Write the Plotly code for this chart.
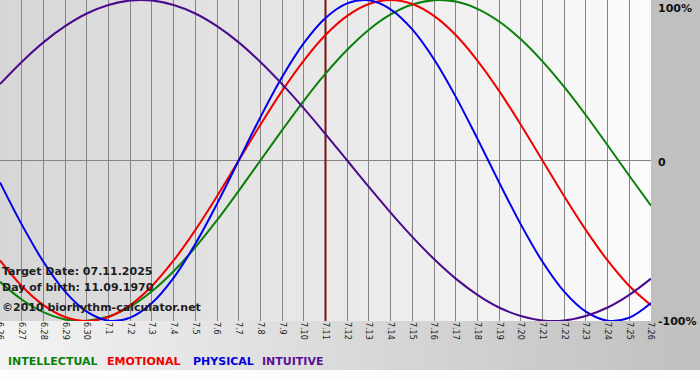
import plotly.graph_objects as go

# ---------------- data ----------------
days = ["6.26", "6.27", "6.28", "6.29", "6.30",
        "7.1", "7.2", "7.3", "7.4", "7.5", "7.6", "7.7", "7.8", "7.9", "7.10",
        "7.11", "7.12", "7.13", "7.14", "7.15", "7.16", "7.17", "7.18", "7.19",
        "7.20", "7.21", "7.22", "7.23", "7.24", "7.25", "7.26"]

intellectual = [-0.756, -0.866, -0.945, -0.990, -0.999, -0.972, -0.910, -0.815,
                -0.690, -0.541, -0.372, -0.189, 0.000, 0.189, 0.372, 0.541,
                0.690, 0.815, 0.910, 0.972, 0.999, 0.990, 0.945, 0.866,
                0.756, 0.618, 0.458, 0.282, 0.095, -0.095, -0.282]

emotional = [-0.623, -0.782, -0.901, -0.975, -1.000, -0.975, -0.901, -0.782,
             -0.623, -0.434, -0.223, 0.000, 0.223, 0.434, 0.623, 0.782,
             0.901, 0.975, 1.000, 0.975, 0.901, 0.782, 0.623, 0.434,
             0.223, 0.000, -0.223, -0.434, -0.623, -0.782, -0.901]

physical = [-0.136, -0.398, -0.631, -0.817, -0.942, -0.998, -0.979, -0.888,
            -0.731, -0.520, -0.270, 0.000, 0.270, 0.520, 0.731, 0.888,
            0.979, 0.998, 0.942, 0.817, 0.631, 0.398, 0.136, -0.136,
            -0.398, -0.631, -0.817, -0.942, -0.998, -0.979, -0.888]

intuitive = [0.476, 0.614, 0.736, 0.837, 0.916, 0.969, 0.997, 0.997,
             0.969, 0.916, 0.837, 0.736, 0.614, 0.476, 0.325, 0.165,
             0.000, -0.165, -0.325, -0.476, -0.614, -0.736, -0.837, -0.916,
             -0.969, -0.997, -0.997, -0.969, -0.916, -0.837, -0.736]

target_day = "7.11"
target_span = [-1, 1]
y_tick_values = [1, 0, -1]
y_tick_labels = ["100%", "0", "-100%"]
legend_names = ["INTELLECTUAL", "EMOTIONAL", "PHYSICAL", "INTUITIVE"]
info_lines = ["Target Date: 07.11.2025", "Day of birth: 11.09.1970",
              "\u00a92010 biorhythm-calculator.net"]

# ---------------- styling ----------------
W, H = 700, 380
PW, PH = 651, 321          # plot area in pixels
FONT = "DejaVu Sans"
series = [
    (legend_names[0], intellectual, "#0a800a"),
    (legend_names[1], emotional, "#f00000"),
    (legend_names[2], physical, "#0000f0"),
    (legend_names[3], intuitive, "#4b0a8c"),
]
legend_colors = ["#0a800a", "#f00000", "#0000e0", "#5a0e96"]
legend_x = [8, 107, 193, 262]


def px_x(p):
    return p / PW


def px_y(p):
    return (PH - p) / PH


def mix(c1, c2, t):
    return "rgb(%d,%d,%d)" % tuple(round(a + (b - a) * t) for a, b in zip(c1, c2))


fig = go.Figure()
# target date line (below the curves, above the grid)
fig.add_trace(go.Scatter(x=[target_day, target_day], y=target_span, mode="lines",
                         line=dict(color="#7c1010", width=2), hoverinfo="skip",
                         showlegend=False))
# draw order: green, red, blue, purple
for name, vals, col in series:
    fig.add_trace(go.Scatter(x=days, y=vals, mode="lines", name=name,
                             line=dict(color=col, width=2, shape="spline", smoothing=1.0),
                             hoverinfo="skip"))

shapes = []
# plot-area gradient
N = 60
for k in range(N):
    shapes.append(dict(type="rect", xref="x domain", yref="y domain",
                       x0=k / N, x1=(k + 1) / N + 0.002, y0=0, y1=1,
                       fillcolor=mix((214, 214, 214), (251, 251, 251), k / (N - 1)),
                       line=dict(width=0), layer="below"))
# right grey column
shapes.append(dict(type="rect", xref="paper", yref="paper",
                   x0=1, x1=W / PW + 0.01, y0=0, y1=1.01,
                   fillcolor="#c0c0c0", line=dict(width=0), layer="below"))
# bottom gradient band
for k in range(N):
    shapes.append(dict(type="rect", xref="paper", yref="paper",
                       x0=k / N * W / PW, x1=(k + 1) / N * W / PW + 0.002,
                       y0=px_y(370), y1=px_y(PH),
                       fillcolor=mix((243, 243, 243), (192, 192, 192), k / (N - 1)),
                       line=dict(width=0), layer="below"))

annotations = []
# info text
for txt, yp in zip(info_lines, [271, 287, 307]):
    annotations.append(dict(text=txt, xref="paper", yref="paper",
                            x=px_x(2), y=px_y(yp), xanchor="left", yanchor="middle",
                            showarrow=False, borderpad=0, borderwidth=0,
                            font=dict(family=FONT, size=11, color="#1e1e1e", weight="bold")))
# right-side y labels
for val, lab, yp in zip(y_tick_values, y_tick_labels, [8, 162, 322]):
    annotations.append(dict(text=lab, xref="paper", yref="paper",
                            x=px_x(658), y=px_y(yp), xanchor="left", yanchor="middle",
                            showarrow=False, borderpad=0, borderwidth=0,
                            font=dict(family=FONT, size=11, color="#111111", weight="bold")))
# legend text
for name, col, xp in zip(legend_names, legend_colors, legend_x):
    annotations.append(dict(text=name, xref="paper", yref="paper",
                            x=px_x(xp), y=px_y(362), xanchor="left", yanchor="middle",
                            showarrow=False, borderpad=0, borderwidth=0,
                            font=dict(family=FONT, size=11, color=col, weight="bold")))

fig.update_layout(
    width=W, height=H,
    margin=dict(l=0, r=W - PW, t=0, b=H - PH, pad=0, autoexpand=False),
    paper_bgcolor="#fdfdfd",
    plot_bgcolor="rgba(0,0,0,0)",
    showlegend=False,
    shapes=shapes,
    annotations=annotations,
    xaxis=dict(type="category", categoryorder="array", categoryarray=days,
               range=[0, len(days) - 1], tickmode="linear", automargin=False,
               tick0=0, dtick=1, tickangle=90, showgrid=True,
               gridcolor="#858585", gridwidth=1, zeroline=False, showline=False,
               ticks="", tickfont=dict(family=FONT, size=8, color="#222222"),
               fixedrange=True),
    yaxis=dict(range=[-1, 1], tickmode="array", tickvals=y_tick_values,
               showticklabels=False, showgrid=True, gridcolor="#858585",
               gridwidth=1, zeroline=True, zerolinecolor="#858585", automargin=False,
               zerolinewidth=1, showline=False, ticks="", fixedrange=True),
)

fig.write_html("out.html", config={"displayModeBar": False},
               post_script="document.body.style.margin='0';"
                           "document.body.style.overflow='hidden';")
